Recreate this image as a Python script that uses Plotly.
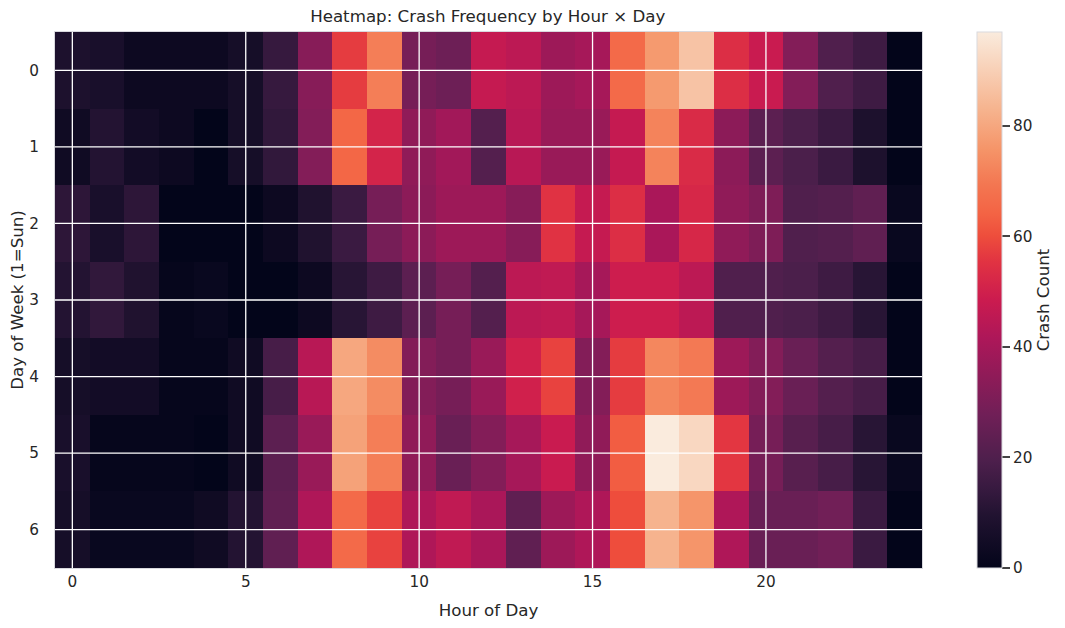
import plotly.graph_objects as go

hours = list(range(25))
days = list(range(7))
x_ticks = [0, 5, 10, 15, 20]
y_ticks = [0, 1, 2, 3, 4, 5, 6]

day0 = [8, 7, 3, 3, 3, 6, 14, 33, 57, 71, 29, 27, 47, 45, 38, 40, 66, 77, 87, 54, 48, 32, 20, 16, 0]
day1 = [4, 10, 5, 3, 0, 6, 13, 32, 65, 51, 35, 39, 21, 44, 37, 37, 47, 72, 53, 34, 23, 19, 15, 8, 0]
day2 = [12, 7, 12, 0, 0, 0, 3, 9, 15, 29, 34, 38, 38, 33, 55, 47, 54, 41, 52, 35, 31, 20, 21, 24, 2]
day3 = [10, 13, 9, 1, 2, 0, 0, 3, 11, 16, 23, 29, 21, 45, 46, 40, 49, 49, 45, 20, 20, 19, 16, 11, 0]
day4 = [6, 5, 5, 1, 1, 4, 18, 44, 80, 74, 32, 29, 37, 50, 58, 32, 57, 73, 70, 38, 32, 26, 21, 18, 0]
day5 = [7, 1, 1, 1, 0, 4, 23, 37, 79, 71, 35, 26, 32, 40, 48, 35, 63, 97, 92, 56, 29, 22, 18, 11, 2]
day6 = [6, 2, 2, 2, 4, 10, 24, 42, 66, 58, 42, 46, 41, 24, 38, 42, 60, 83, 76, 42, 26, 26, 28, 15, 0]
z = [day0, day1, day2, day3, day4, day5, day6]

rocket = [[0, "#03051A"], [0.1, "#221331"], [1/7, "#35193E"], [0.2, "#4D1F4C"], [2/7, "#701F57"],
          [3/7, "#AD1759"], [0.5, "#CB1B4F"], [4/7, "#E13342"], [0.62, "#EE4E3C"], [0.66, "#F36344"],
          [5/7, "#F37651"], [0.78, "#F59468"], [6/7, "#F6B48F"], [1, "#FAEBDD"]]

TXT = "#262626"
EDGE = "#D9D9DE"
FONT = "DejaVu Sans"

fig = go.Figure(go.Heatmap(
    x=hours, y=days, z=z, zmin=0, zmax=97, colorscale=rocket, xgap=0, ygap=0,
    hovertemplate="Hour %{x}<br>Day %{y}<br>Crashes %{z}<extra></extra>",
    colorbar=dict(
        title=dict(text="Crash Count", side="right", font=dict(size=16.67, color=TXT, family=FONT)),
        tickvals=[0, 20, 40, 60, 80], ticks="outside", ticklen=8, tickwidth=2, tickcolor="#444444",
        tickprefix="\u00a0",
        outlinewidth=1, outlinecolor=EDGE,
        thickness=25, len=1, lenmode="fraction", x=1.0634, xanchor="left", xpad=0, ypad=0,
        y=0, yanchor="bottom",
        tickfont=dict(size=15.28, color=TXT, family=FONT),
    ),
))

for t in x_ticks:
    fig.add_shape(type="line", xref="x", yref="paper", x0=t, x1=t, y0=0, y1=1,
                  line=dict(color="white", width=1.3), layer="above")
for t in y_ticks:
    fig.add_shape(type="line", xref="paper", yref="y", x0=0, x1=1, y0=t, y1=t,
                  line=dict(color="white", width=1.3), layer="above")

fig.update_layout(
    width=1065, height=628, autosize=False,
    margin=dict(l=47, r=151, t=24, b=68, autoexpand=False),
    paper_bgcolor="white", plot_bgcolor="white",
    font=dict(family=FONT, color=TXT, size=15.28),
    title=dict(text="Heatmap: Crash Frequency by Hour × Day", x=0.4505, xanchor="center",
               y=0.987, yanchor="middle", font=dict(size=16.67, color=TXT, family=FONT)),
    xaxis=dict(title=dict(text="Hour of Day", font=dict(size=16.67), standoff=13), tickvals=x_ticks,
               range=[-0.5, 24.5], showgrid=False, zeroline=False, ticks="", ticklabelstandoff=0,
               automargin=False, showline=True, linecolor=EDGE, linewidth=1, mirror=True),
    yaxis=dict(title=dict(text="Day of Week (1=Sun)", font=dict(size=16.67), standoff=12), tickvals=y_ticks,
               range=[6.5, -0.5], showgrid=False, zeroline=False, ticks="", ticklabelstandoff=12,
               automargin=False, showline=True, linecolor=EDGE, linewidth=1, mirror=True),
)

fig.write_html("out.html")
